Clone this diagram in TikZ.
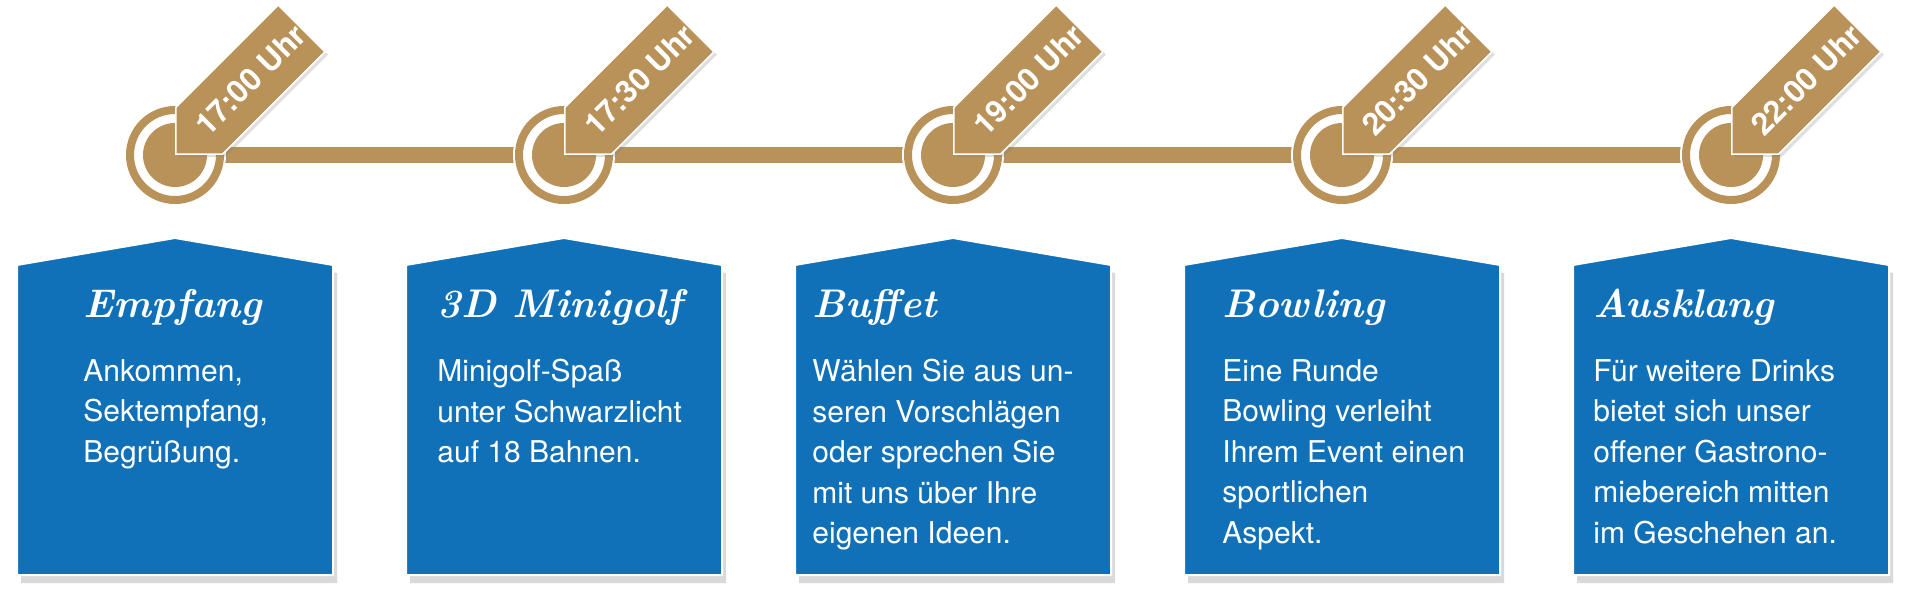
\documentclass[tikz,border=0pt]{standalone}
\usepackage{fontspec}
\setmainfont{TeX Gyre Heros}
\newfontfamily\headfont{Latin Modern Roman}
\usetikzlibrary{shapes.symbols,shadows}
\definecolor{gold}{RGB}{184,146,88}
\definecolor{tlblue}{RGB}{16,112,184}

\begin{document}
\begin{tikzpicture}[x=0.5pt,y=0.5pt]


\tikzset{house/.style={fill=tlblue, draw=white, line width=1pt, drop shadow={shadow xshift=2pt, shadow yshift=-4pt, opacity=0.3}},}
\tikzset{bar/.style={draw=gold, line width=8pt, preaction={draw=white, line width=10pt}},}
\tikzset{dot/.style={circle, fill=white, draw=gold, line width=4pt, minimum size=45pt, inner sep=0pt, drop shadow={shadow xshift=1.5pt, shadow yshift=-2pt, opacity=0.25}, preaction={draw=white, line width=6pt}, path picture={\fill[gold] (path picture bounding box.center) circle (16pt);}},}
\tikzset{tag/.style={signal, signal to=west, signal pointer angle=90, fill=gold, draw=white, line width=0.8pt, text=white, font=\fontsize{15.5}{18}\selectfont\bfseries, rotate=45, anchor=west, minimum height=33pt, minimum width=89pt, inner sep=0pt, drop shadow={shadow xshift=1.5pt, shadow yshift=-1.5pt, opacity=0.25}},}
\tikzset{head/.style={anchor=base west, inner sep=0pt, text=white, font=\headfont\bfseries\itshape\fontsize{20}{24}\selectfont},}
\tikzset{body/.style={anchor=north west, inner sep=0pt, text=white, align=left, font=\fontsize{15}{20.25}\selectfont, execute at begin node=\strut},}

	\useasboundingbox (0,0) rectangle (1920,606);

	% boxes
	\filldraw[house] (17,31) -- (17,341) -- (175,368) -- (333,341) -- (333,31) -- cycle;
	\filldraw[house] (406,31) -- (406,341) -- (564,368) -- (722,341) -- (722,31) -- cycle;
	\filldraw[house] (795,31) -- (795,341) -- (953,368) -- (1111,341) -- (1111,31) -- cycle;
	\filldraw[house] (1184,31) -- (1184,341) -- (1342,368) -- (1500,341) -- (1500,31) -- cycle;
	\filldraw[house] (1573,31) -- (1573,341) -- (1731,368) -- (1889,341) -- (1889,31) -- cycle;

	\draw
		(83,289) node[head] (h1) {Empfang}
		(437,289) node[head] (h2) {3D Minigolf}
		(812,289) node[head] (h3) {Buffet}
		(1222,289) node[head] (h4) {Bowling}
		(1593,289) node[head] (h5) {Ausklang};

	\draw
		(83,247) node[body] (b1) {Ankommen,\\Sektempfang,\\Begrüßung.}
		(437,247) node[body] (b2) {Minigolf-Spaß\\unter Schwarzlicht\\auf 18 Bahnen.}
		(812,247) node[body] (b3) {Wählen Sie aus un-\\seren Vorschlägen\\oder sprechen Sie\\mit uns über Ihre\\eigenen Ideen.}
		(1222,247) node[body] (b4) {Eine Runde\\Bowling verleiht\\Ihrem Event einen\\sportlichen\\Aspekt.}
		(1593,247) node[body] (b5) {Für weitere Drinks\\bietet sich unser\\offener Gastrono-\\miebereich mitten\\im Geschehen an.};

	% time line
	\coordinate (p1) at (175,451);
	\coordinate (p2) at (564,451);
	\coordinate (p3) at (953,451);
	\coordinate (p4) at (1342,451);
	\coordinate (p5) at (1731,451);

	\draw[bar] (p1) -- (p5);

	\node[dot] (t1) at (p1) {};
	\node[dot] (t2) at (p2) {};
	\node[dot] (t3) at (p3) {};
	\node[dot] (t4) at (p4) {};
	\node[dot] (t5) at (p5) {};

	\node[tag] (z1) at (t1.center) {17:00 Uhr};
	\node[tag] (z2) at (t2.center) {17:30 Uhr};
	\node[tag] (z3) at (t3.center) {19:00 Uhr};
	\node[tag] (z4) at (t4.center) {20:30 Uhr};
	\node[tag] (z5) at (t5.center) {22:00 Uhr};

\end{tikzpicture}
\end{document}
